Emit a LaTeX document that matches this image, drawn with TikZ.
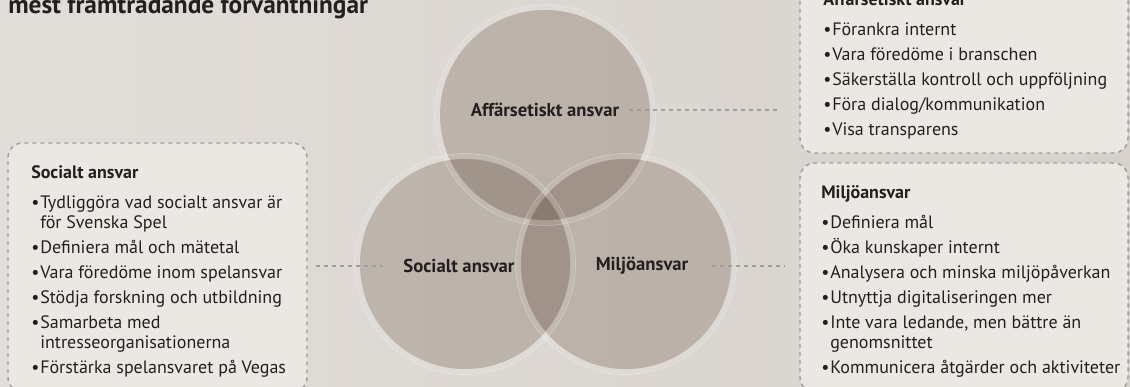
\documentclass[tikz,border=0pt]{standalone}
\usepackage{fontspec}
\setmainfont{PT Sans}
\usepackage{tikz}
\usetikzlibrary{positioning}

\definecolor{bgleft}{RGB}{225,221,216}
\definecolor{bgright}{RGB}{214,209,203}
\definecolor{boxfill}{RGB}{235,232,228}
\definecolor{dashgray}{RGB}{158,158,158}
\definecolor{ringfill}{RGB}{219,212,207}
\definecolor{txt}{RGB}{35,31,32}

\newcommand{\itm}{\makebox[6.75pt][l]{•}}
\newcommand{\cont}{\hspace*{6.75pt}}

\tikzset{
	ring/.style={circle, minimum size=157.5pt, inner sep=0pt, fill=ringfill},
	circlabel/.style={font=\fontsize{14}{16}\selectfont\bfseries, text=txt},
	infobox/.style={rectangle, rounded corners=11pt, fill=boxfill, draw=dashgray,
		line width=1.1pt, dash pattern=on 3pt off 3pt},
	listtext/.style={align=left, inner sep=0pt, text=txt,
		font=\fontsize{13.5}{15}\selectfont},
	connector/.style={draw=dashgray, line width=1.1pt, dash pattern=on 3pt off 3pt}
}

\begin{document}
\begin{tikzpicture}[x=0.75pt, y=-0.75pt]

	\useasboundingbox (0,0) rectangle (1130,386);
	\fill[left color=bgleft, right color=bgright] (0,0) rectangle (1130,386);

	% title, cut at the top
	\node[anchor=base west, inner sep=0pt, text=txt, font=\fontsize{19}{21}\selectfont\bfseries] (title) at (8,13) {mest framträdande förväntningar};

	% the three circles
	\begin{scope}[blend mode=multiply]
	\node[ring] (aff)  at (545,115) {};
	\node[ring] (soc)  at (465,264) {};
	\node[ring] (milj) at (626,264) {};
	\end{scope}
	\foreach \c in {aff, soc, milj} {
		\draw[white, opacity=0.1, line width=3.6pt] (\c.center) circle (108);
		\draw[white, opacity=0.35, line width=0.4pt] (\c.center) circle (110.5);
	}

	\node[circlabel] (affl)  at (545,110) {Affärsetiskt ansvar};
	\node[circlabel] (socl)  at (459,266) {Socialt ansvar};
	\node[circlabel] (miljl) at (642,266) {Miljöansvar};

	% boxes
	\node[infobox, minimum width={328*0.75pt}, minimum height={173*0.75pt}] (affbox)  at (964,66.5) {};
	\node[infobox, minimum width={328*0.75pt}, minimum height={229*0.75pt}] (miljbox) at (964,277.5) {};
	\node[infobox, minimum width={299*0.75pt}, minimum height={249*0.75pt}] (socbox)  at (157.5,267.5) {};

	% lists, placed by the baseline of their last line
	\node[listtext, anchor=base west] (afftxt) at (823,135) {%
		\textbf{Affärsetiskt ansvar}\\[7.5pt]
		\itm Förankra internt\\[3.75pt]
		\itm Vara föredöme i branschen\\[3.75pt]
		\itm Säkerställa kontroll och uppföljning\\[3.75pt]
		\itm Föra dialog/kommunikation\\[3.75pt]
		\itm Visa transparens};

	\node[listtext, anchor=base west] (soctxt) at (31,373) {%
		\textbf{Socialt ansvar}\\[7.5pt]
		\itm Tydliggöra vad socialt ansvar är\\
		\cont för Svenska Spel\\[3.75pt]
		\itm Definiera mål och mätetal\\[3.75pt]
		\itm Vara föredöme inom spelansvar\\[3.75pt]
		\itm Stödja forskning och utbildning\\[3.75pt]
		\itm Samarbeta med\\
		\cont intresseorganisationerna\\[3.75pt]
		\itm Förstärka spelansvaret på Vegas};

	\node[listtext, anchor=base west] (miljtxt) at (821,373) {%
		\textbf{Miljöansvar}\\[7.5pt]
		\itm Definiera mål\\[3.75pt]
		\itm Öka kunskaper internt\\[3.75pt]
		\itm Analysera och minska miljöpåverkan\\[3.75pt]
		\itm Utnyttja digitaliseringen mer\\[3.75pt]
		\itm Inte vara ledande, men bättre än\\
		\cont genomsnittet\\[3.75pt]
		\itm Kommunicera åtgärder och aktiviteter};

	% dashed links
	\draw[connector, shorten <=4pt, shorten >=15pt] (affl.east) -- (affl.east -| affbox.west);
	\draw[connector, shorten <=6pt, shorten >=12pt] (socl.west -| socbox.east) -- (socl.west);
	\draw[connector, shorten <=14pt, shorten >=11pt] (miljl.east) -- (miljl.east -| miljbox.west);

\end{tikzpicture}
\end{document}
